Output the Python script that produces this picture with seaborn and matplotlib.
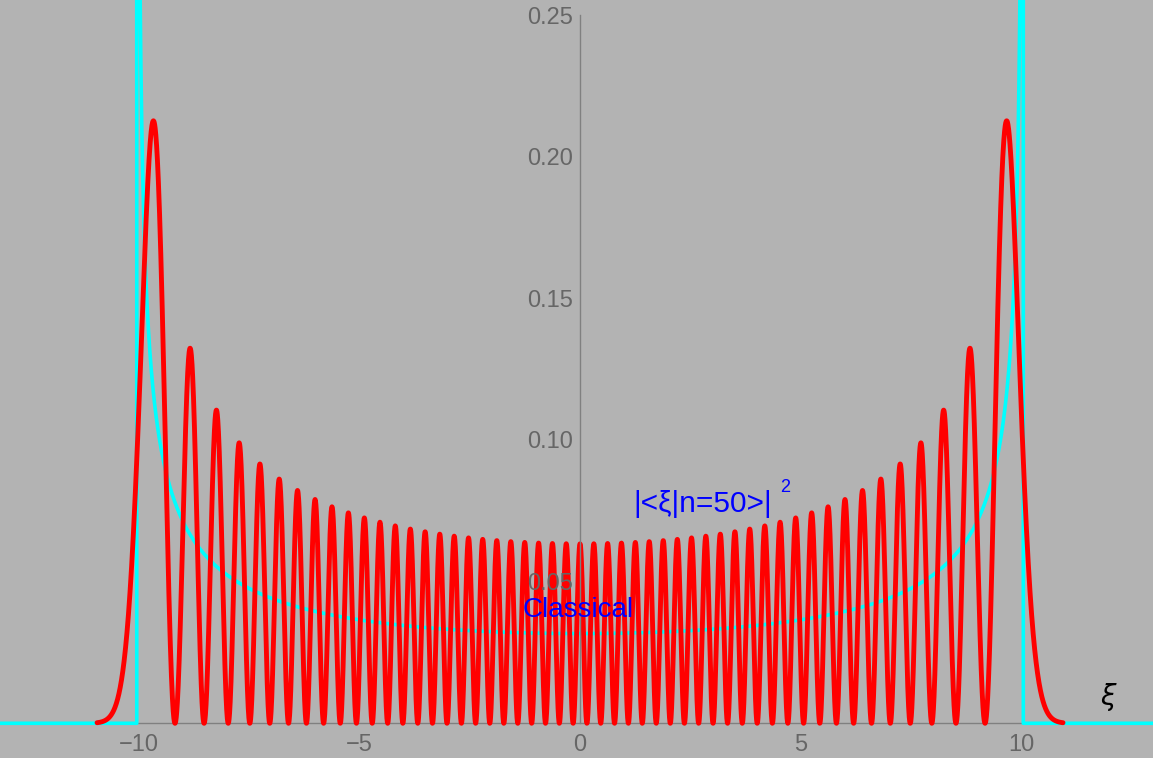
import numpy as np
import pandas as pd
import matplotlib
matplotlib.use("Agg")
import matplotlib.pyplot as plt
import seaborn as sns

# ---- chart data ----
n_level = 50                      # quantum number shown in the label
x_range_quantum = [-10.95, 10.95]  # xi range of the quantum curve
x_range_classical = [-13.2, 13.1]  # xi range of the classical curve
n_samples = 6000
x_ticks = [-10, -5, 0, 5, 10]
x_tick_labels = ["\u221210", "\u22125", "0", "5", "10"]
y_ticks = [0.05, 0.10, 0.15, 0.20, 0.25]
y_tick_labels = ["0.05", "0.10", "0.15", "0.20", "0.25"]
quantum_label = "|<\u03be|n=50>|"
classical_label = "Classical"

# ---- curves (harmonic-oscillator eigenstate n and classical density) ----
xs = np.linspace(x_range_quantum[0], x_range_quantum[1], n_samples)
psi_prev = np.zeros_like(xs)
psi = np.pi ** -0.25 * np.exp(-xs ** 2 / 2)
for k in range(n_level):
    psi_next = np.sqrt(2.0 / (k + 1)) * xs * psi - np.sqrt(k / (k + 1.0)) * psi_prev
    psi_prev, psi = psi, psi_next
quantum = psi ** 2

xt = np.sqrt(2 * n_level + 1)
xc = np.linspace(x_range_classical[0], x_range_classical[1], n_samples)
inner = np.linspace(-xt, xt, n_samples)[1:-1]
left = xc[xc < -xt]
right = xc[xc > xt]
cx = np.concatenate([left, [-xt, -xt], inner, [xt, xt], right])
cy = np.concatenate([np.zeros_like(left), [0, 5],
                     1 / (np.pi * np.sqrt(xt ** 2 - inner ** 2)),
                     [5, 0], np.zeros_like(right)])

df_q = pd.DataFrame({"xi": xs, "p": quantum})
df_c = pd.DataFrame({"xi": cx, "p": cy})

sns.set_style("white")
plt.rcParams["font.family"] = ["Liberation Sans", "DejaVu Sans"]

bg = "#b3b3b3"
fig = plt.figure(figsize=(11.53, 7.58), dpi=100, facecolor=bg)
ax = fig.add_axes([0, 0, 1, 1])
ax.set_facecolor(bg)

sns.lineplot(data=df_c, x="xi", y="p", ax=ax, color="#00ffff", linewidth=2.6,
             sort=False, estimator=None, zorder=3)
sns.lineplot(data=df_q, x="xi", y="p", ax=ax, color="#ff0000", linewidth=3.5,
             sort=False, estimator=None, zorder=4)

ax.set_xlim(-13.15, 12.99)
ax.set_ylim(-0.01225, 0.2553)

for s in ["top", "right"]:
    ax.spines[s].set_visible(False)
axis_col = "#808080"
ax.spines["left"].set_position(("data", 0))
ax.spines["bottom"].set_position(("data", 0))
ax.spines["left"].set_color(axis_col)
ax.spines["bottom"].set_color(axis_col)
ax.spines["left"].set_bounds(0, 0.25)
ax.spines["left"].set_linewidth(1.0)
ax.spines["bottom"].set_linewidth(1.0)
ax.spines["left"].set_zorder(5)
ax.yaxis.set_zorder(5)

ax.set_xticks(x_ticks)
ax.set_xticklabels(x_tick_labels)
ax.set_yticks(y_ticks)
ax.set_yticklabels(y_tick_labels)
ax.set_xticks(np.arange(-13, 13), minor=True)
ax.set_yticks(np.arange(0.01, 0.25, 0.01), minor=True)
ax.tick_params(axis="both", which="major", direction="in", length=6, width=1,
               color=axis_col, labelcolor="#666666", labelsize=17)
ax.tick_params(axis="both", which="minor", direction="in", length=3.5, width=1,
               color=axis_col)
ax.tick_params(axis="x", pad=8)
ax.tick_params(axis="y", pad=5)
ax.set_xlabel("")
ax.set_ylabel("")

ax.text(11.97, 0.0093, "\u03be", color="black", fontsize=20, style="italic",
        ha="center", va="center", family=["DejaVu Sans"], zorder=6)
ax.text(1.2, 0.0746, quantum_label, color="#0000ff", fontsize=21.5,
        ha="left", va="baseline", zorder=6)
ax.text(4.53, 0.0816, "2", color="#0000ff", fontsize=13,
        ha="left", va="baseline", zorder=6)
ax.text(-0.05, 0.040, classical_label, color="#0000ff", fontsize=20,
        ha="center", va="center", zorder=6)

fig.savefig("out.png", dpi=100, facecolor=bg)
